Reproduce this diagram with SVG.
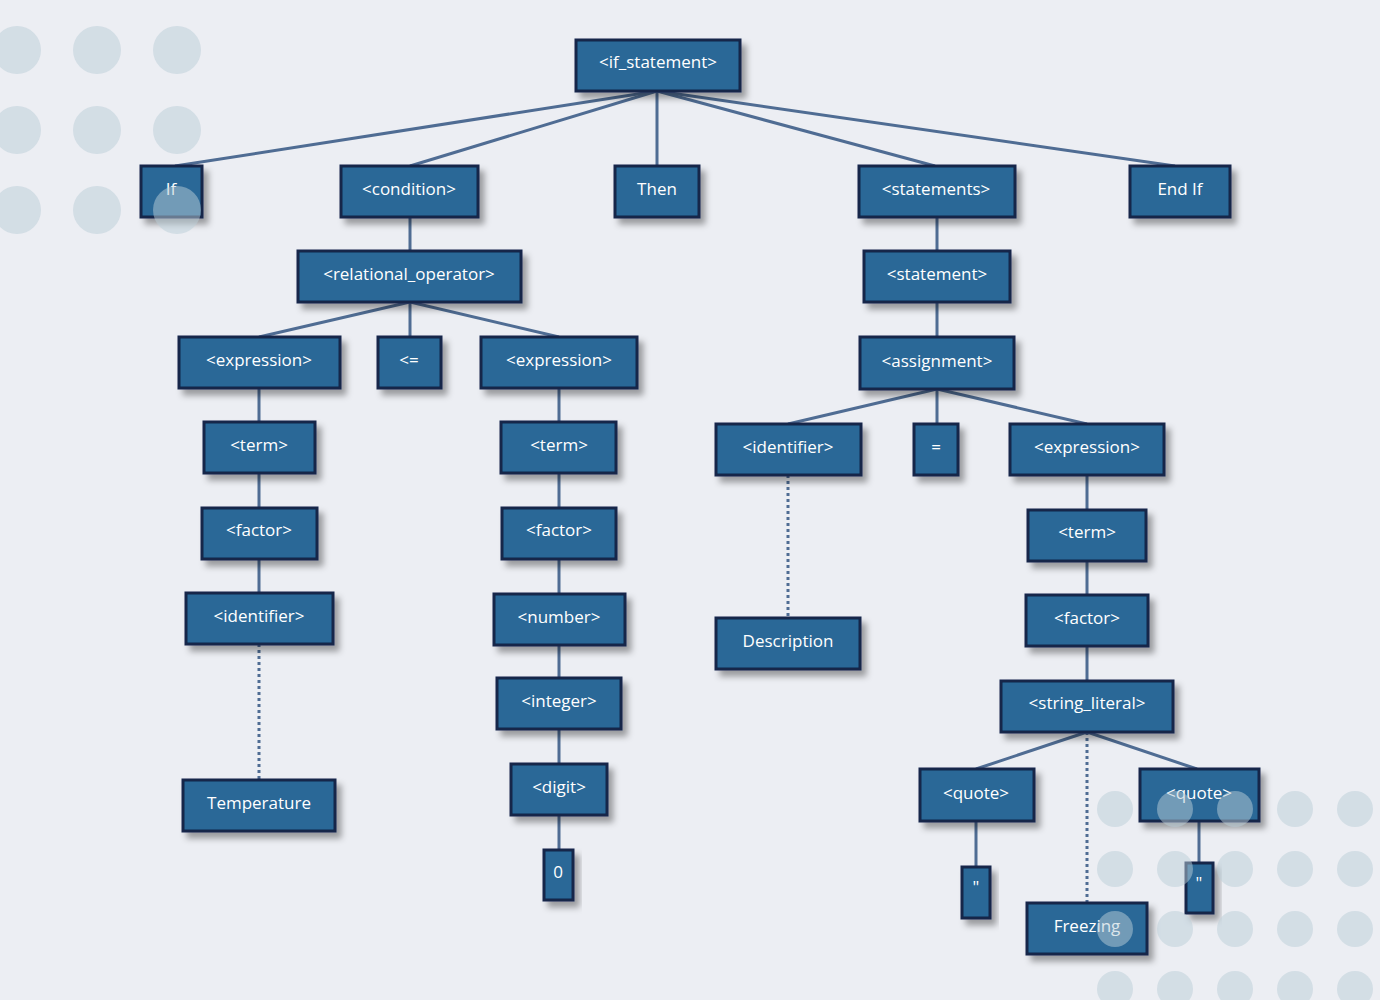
<svg xmlns="http://www.w3.org/2000/svg" width="1380" height="1000" viewBox="0 0 1380 1000">
<defs>
<filter id="sh" x="-20%" y="-20%" width="150%" height="160%"><feDropShadow dx="5" dy="6" stdDeviation="3" flood-color="#000" flood-opacity="0.35"/></filter>
<style>
.n rect{fill:#2c6897;stroke:#12264a;stroke-width:3;filter:url(#sh)}
.n text{fill:#fff;font-family:"Open Sans","DejaVu Sans",sans-serif;font-size:17px;text-anchor:middle;dominant-baseline:central}
.c line{stroke:#4f6c93;stroke-width:3}
.c line.d{stroke-dasharray:3 3}
.dot{fill:#b9cdd8;opacity:0.5}
</style>
</defs>
<rect width="1380" height="1000" fill="#eceef3"/>
<g id="connectors" class="c">
<line x1="657" y1="91" x2="175" y2="166"/>
<line x1="657" y1="91" x2="410" y2="166"/>
<line x1="657" y1="91" x2="657" y2="166"/>
<line x1="657" y1="91" x2="935" y2="166"/>
<line x1="657" y1="91" x2="1175" y2="166"/>
<line x1="410" y1="217" x2="410" y2="251"/>
<line x1="937" y1="217" x2="937" y2="251"/>
<line x1="410" y1="302" x2="259" y2="337"/>
<line x1="410" y1="302" x2="410" y2="337"/>
<line x1="410" y1="302" x2="559" y2="337"/>
<line x1="937" y1="302" x2="937" y2="337"/>
<line x1="259" y1="388" x2="259" y2="422"/>
<line x1="559" y1="388" x2="559" y2="422"/>
<line x1="937" y1="389" x2="788" y2="424"/>
<line x1="937" y1="389" x2="937" y2="424"/>
<line x1="937" y1="389" x2="1087" y2="424"/>
<line x1="259" y1="473" x2="259" y2="508"/>
<line x1="559" y1="473" x2="559" y2="508"/>
<line x1="1087" y1="475" x2="1087" y2="510"/>
<line x1="259" y1="559" x2="259" y2="593"/>
<line x1="559" y1="559" x2="559" y2="594"/>
<line x1="1087" y1="561" x2="1087" y2="595"/>
<line class="d" x1="259" y1="644" x2="259" y2="780"/>
<line class="d" x1="788" y1="475" x2="788" y2="618"/>
<line x1="559" y1="645" x2="559" y2="678"/>
<line x1="1087" y1="646" x2="1087" y2="681"/>
<line x1="559" y1="729" x2="559" y2="764"/>
<line x1="1087" y1="732" x2="976" y2="769"/>
<line x1="1087" y1="732" x2="1197" y2="769"/>
<line class="d" x1="1087" y1="732" x2="1087" y2="903"/>
<line x1="559" y1="815" x2="559" y2="850"/>
<line x1="976" y1="821" x2="976" y2="867"/>
<line x1="1199" y1="821" x2="1199" y2="863"/>
</g>
<g id="n_root" class="n"><rect x="576" y="40" width="164" height="51"/><text x="658" y="61">&lt;if_statement&gt;</text></g>
<g id="n_if" class="n"><rect x="141" y="166" width="61" height="51"/><text x="171" y="188">If</text></g>
<g id="n_cond" class="n"><rect x="341" y="166" width="137" height="51"/><text x="409" y="188">&lt;condition&gt;</text></g>
<g id="n_then" class="n"><rect x="615" y="166" width="84" height="51"/><text x="657" y="188">Then</text></g>
<g id="n_stmts" class="n"><rect x="859" y="166" width="156" height="51"/><text x="936" y="188">&lt;statements&gt;</text></g>
<g id="n_endif" class="n"><rect x="1130" y="166" width="100" height="51"/><text x="1180" y="188">End If</text></g>
<g id="n_rel" class="n"><rect x="298" y="251" width="223" height="51"/><text x="409" y="273">&lt;relational_operator&gt;</text></g>
<g id="n_stmt" class="n"><rect x="864" y="251" width="146" height="51"/><text x="937" y="273">&lt;statement&gt;</text></g>
<g id="n_exprL" class="n"><rect x="179" y="337" width="161" height="51"/><text x="259" y="359">&lt;expression&gt;</text></g>
<g id="n_le" class="n"><rect x="378" y="337" width="63" height="51"/><text x="409" y="359">&lt;=</text></g>
<g id="n_exprR" class="n"><rect x="481" y="337" width="156" height="51"/><text x="559" y="359">&lt;expression&gt;</text></g>
<g id="n_assign" class="n"><rect x="860" y="337" width="154" height="52"/><text x="937" y="360">&lt;assignment&gt;</text></g>
<g id="n_termL" class="n"><rect x="204" y="422" width="111" height="51"/><text x="259" y="444">&lt;term&gt;</text></g>
<g id="n_termR" class="n"><rect x="501" y="422" width="115" height="51"/><text x="559" y="444">&lt;term&gt;</text></g>
<g id="n_identR" class="n"><rect x="716" y="424" width="145" height="51"/><text x="788" y="446">&lt;identifier&gt;</text></g>
<g id="n_eq" class="n"><rect x="914" y="424" width="44" height="51"/><text x="936" y="446">=</text></g>
<g id="n_exprRR" class="n"><rect x="1010" y="424" width="154" height="51"/><text x="1087" y="446">&lt;expression&gt;</text></g>
<g id="n_factorL" class="n"><rect x="202" y="508" width="115" height="51"/><text x="259" y="529">&lt;factor&gt;</text></g>
<g id="n_factorR" class="n"><rect x="502" y="508" width="114" height="51"/><text x="559" y="529">&lt;factor&gt;</text></g>
<g id="n_termRR" class="n"><rect x="1028" y="510" width="118" height="51"/><text x="1087" y="531">&lt;term&gt;</text></g>
<g id="n_identL" class="n"><rect x="186" y="593" width="147" height="51"/><text x="259" y="615">&lt;identifier&gt;</text></g>
<g id="n_number" class="n"><rect x="494" y="594" width="131" height="51"/><text x="559" y="616">&lt;number&gt;</text></g>
<g id="n_desc" class="n"><rect x="716" y="618" width="144" height="51"/><text x="788" y="640">Description</text></g>
<g id="n_factorRR" class="n"><rect x="1026" y="595" width="122" height="51"/><text x="1087" y="617">&lt;factor&gt;</text></g>
<g id="n_integer" class="n"><rect x="497" y="678" width="124" height="51"/><text x="559" y="700">&lt;integer&gt;</text></g>
<g id="n_strlit" class="n"><rect x="1001" y="681" width="172" height="51"/><text x="1087" y="702">&lt;string_literal&gt;</text></g>
<g id="n_digit" class="n"><rect x="511" y="764" width="96" height="51"/><text x="559" y="786">&lt;digit&gt;</text></g>
<g id="n_temp" class="n"><rect x="183" y="780" width="152" height="51"/><text x="259" y="802">Temperature</text></g>
<g id="n_quoteL" class="n"><rect x="920" y="769" width="114" height="52"/><text x="976" y="792">&lt;quote&gt;</text></g>
<g id="n_quoteR" class="n"><rect x="1140" y="769" width="119" height="52"/><text x="1199" y="792">&lt;quote&gt;</text></g>
<g id="n_zero" class="n"><rect x="544" y="850" width="29" height="50"/><text x="558" y="871">0</text></g>
<g id="n_qL" class="n"><rect x="962" y="867" width="28" height="51"/><text x="976" y="886">"</text></g>
<g id="n_qR" class="n"><rect x="1186" y="863" width="27" height="50"/><text x="1199" y="882">"</text></g>
<g id="n_freezing" class="n"><rect x="1027" y="903" width="120" height="51"/><text x="1087" y="925">Freezing</text></g>
<g id="dots">
<circle class="dot" cx="17" cy="50" r="24"/><circle class="dot" cx="97" cy="50" r="24"/><circle class="dot" cx="177" cy="50" r="24"/>
<circle class="dot" cx="17" cy="130" r="24"/><circle class="dot" cx="97" cy="130" r="24"/><circle class="dot" cx="177" cy="130" r="24"/>
<circle class="dot" cx="17" cy="210" r="24"/><circle class="dot" cx="97" cy="210" r="24"/><circle class="dot" cx="177" cy="210" r="24"/>
<circle class="dot" cx="1115" cy="809" r="18"/><circle class="dot" cx="1175" cy="809" r="18"/><circle class="dot" cx="1235" cy="809" r="18"/><circle class="dot" cx="1295" cy="809" r="18"/><circle class="dot" cx="1355" cy="809" r="18"/>
<circle class="dot" cx="1115" cy="869" r="18"/><circle class="dot" cx="1175" cy="869" r="18"/><circle class="dot" cx="1235" cy="869" r="18"/><circle class="dot" cx="1295" cy="869" r="18"/><circle class="dot" cx="1355" cy="869" r="18"/>
<circle class="dot" cx="1115" cy="929" r="18"/><circle class="dot" cx="1175" cy="929" r="18"/><circle class="dot" cx="1235" cy="929" r="18"/><circle class="dot" cx="1295" cy="929" r="18"/><circle class="dot" cx="1355" cy="929" r="18"/>
<circle class="dot" cx="1115" cy="989" r="18"/><circle class="dot" cx="1175" cy="989" r="18"/><circle class="dot" cx="1235" cy="989" r="18"/><circle class="dot" cx="1295" cy="989" r="18"/><circle class="dot" cx="1355" cy="989" r="18"/>
</g>
</svg>
